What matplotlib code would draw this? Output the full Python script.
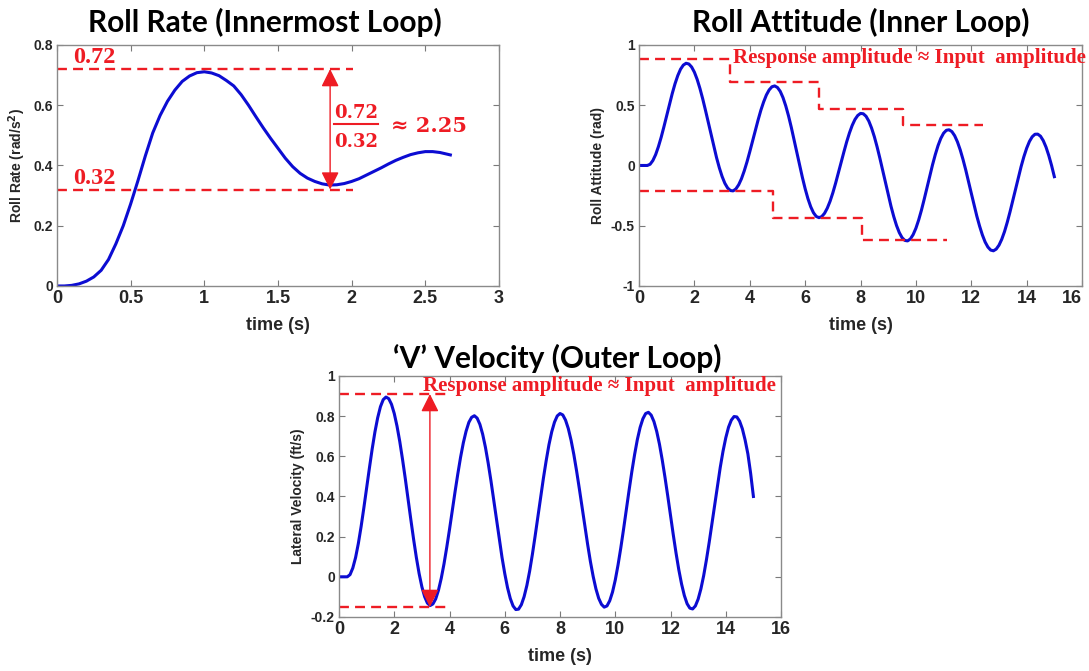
import matplotlib
matplotlib.use('Agg')
import matplotlib.pyplot as plt
from matplotlib.ticker import FuncFormatter

# roll rate response (innermost loop)
rate_t = [0, 0.05, 0.1, 0.15, 0.2, 0.25, 0.3, 0.35, 0.4, 0.45, 0.5, 0.55, 0.6, 0.65,
          0.7, 0.75, 0.8, 0.85, 0.9, 0.95, 1.0, 1.05, 1.1, 1.15, 1.2, 1.25, 1.3, 1.35,
          1.4, 1.45, 1.5, 1.55, 1.6, 1.65, 1.7, 1.75, 1.8, 1.85, 1.9, 1.95, 2.0, 2.05,
          2.1, 2.15, 2.2, 2.25, 2.3, 2.35, 2.4, 2.45, 2.5, 2.55, 2.6, 2.67]
rate_y = [0, 0.0, 0.002, 0.007, 0.016, 0.030, 0.052, 0.088, 0.140, 0.200, 0.272, 0.350,
          0.432, 0.508, 0.566, 0.613, 0.650, 0.679, 0.697, 0.708, 0.711, 0.707, 0.698,
          0.682, 0.664, 0.635, 0.600, 0.562, 0.525, 0.490, 0.457, 0.424, 0.396, 0.374,
          0.358, 0.347, 0.339, 0.335, 0.336, 0.340, 0.347, 0.356, 0.368, 0.380, 0.392,
          0.405, 0.417, 0.427, 0.436, 0.442, 0.446, 0.446, 0.443, 0.435]
rate_peak = 0.72
rate_trough = 0.32
rate_ratio = 2.25

# shared time grid for the inner and outer loop responses
t_long = [0.0, 0.1, 0.2, 0.3, 0.4, 0.5, 0.6, 0.7, 0.8, 0.9,
          1.0, 1.1, 1.2, 1.3, 1.4, 1.5, 1.6, 1.7, 1.8, 1.9,
          2.0, 2.1, 2.2, 2.3, 2.4, 2.5, 2.6, 2.7, 2.8, 2.9,
          3.0, 3.1, 3.2, 3.3, 3.4, 3.5, 3.6, 3.7, 3.8, 3.9,
          4.0, 4.1, 4.2, 4.3, 4.4, 4.5, 4.6, 4.7, 4.8, 4.9,
          5.0, 5.1, 5.2, 5.3, 5.4, 5.5, 5.6, 5.7, 5.8, 5.9,
          6.0, 6.1, 6.2, 6.3, 6.4, 6.5, 6.6, 6.7, 6.8, 6.9,
          7.0, 7.1, 7.2, 7.3, 7.4, 7.5, 7.6, 7.7, 7.8, 7.9,
          8.0, 8.1, 8.2, 8.3, 8.4, 8.5, 8.6, 8.7, 8.8, 8.9,
          9.0, 9.1, 9.2, 9.3, 9.4, 9.5, 9.6, 9.7, 9.8, 9.9,
          10.0, 10.1, 10.2, 10.3, 10.4, 10.5, 10.6, 10.7, 10.8, 10.9,
          11.0, 11.1, 11.2, 11.3, 11.4, 11.5, 11.6, 11.7, 11.8, 11.9,
          12.0, 12.1, 12.2, 12.3, 12.4, 12.5, 12.6, 12.7, 12.8, 12.9,
          13.0, 13.1, 13.2, 13.3, 13.4, 13.5, 13.6, 13.7, 13.8, 13.9,
          14.0, 14.1, 14.2, 14.3, 14.4, 14.5, 14.6, 14.7, 14.8, 14.9,
          15.0]

# roll attitude (inner loop)
att_y = [0.0, 0.0, 0.0, 0.0, 0.010, 0.041, 0.090, 0.156, 0.234, 0.322,
         0.414, 0.508, 0.597, 0.678, 0.746, 0.799, 0.833, 0.848, 0.842, 0.817,
         0.774, 0.714, 0.639, 0.553, 0.458, 0.359, 0.257, 0.158, 0.065, -0.019,
         -0.091, -0.148, -0.187, -0.208, -0.211, -0.194, -0.160, -0.110, -0.045, 0.030,
         0.114, 0.202, 0.291, 0.377, 0.458, 0.527, 0.585, 0.627, 0.653, 0.660,
         0.647, 0.615, 0.563, 0.494, 0.411, 0.316, 0.214, 0.108, 0.003, -0.099,
         -0.193, -0.275, -0.342, -0.392, -0.423, -0.433, -0.424, -0.397, -0.354, -0.297,
         -0.227, -0.147, -0.062, 0.026, 0.113, 0.196, 0.270, 0.333, 0.382, 0.415,
         0.432, 0.429, 0.408, 0.368, 0.310, 0.238, 0.153, 0.059, -0.041, -0.143,
         -0.243, -0.338, -0.424, -0.498, -0.557, -0.599, -0.622, -0.626, -0.610, -0.574,
         -0.521, -0.452, -0.371, -0.280, -0.184, -0.088, 0.005, 0.090, 0.165, 0.225,
         0.268, 0.292, 0.296, 0.281, 0.247, 0.196, 0.130, 0.051, -0.037, -0.132,
         -0.230, -0.327, -0.420, -0.503, -0.576, -0.635, -0.677, -0.702, -0.708, -0.694,
         -0.662, -0.613, -0.549, -0.471, -0.384, -0.290, -0.194, -0.099, -0.009, 0.073,
         0.143, 0.199, 0.238, 0.259, 0.260, 0.243, 0.206, 0.152, 0.082, 0.000,
         -0.093]

# lateral velocity (outer loop)
vel_y = [0.0, 0.0, 0.0, 0.0, 0.011, 0.044, 0.096, 0.166, 0.250, 0.344,
         0.443, 0.541, 0.636, 0.721, 0.792, 0.847, 0.882, 0.895, 0.887, 0.859,
         0.813, 0.750, 0.673, 0.584, 0.488, 0.386, 0.285, 0.187, 0.096, 0.016,
         -0.050, -0.099, -0.131, -0.143, -0.135, -0.110, -0.067, -0.008, 0.064, 0.147,
         0.236, 0.330, 0.423, 0.512, 0.595, 0.667, 0.725, 0.769, 0.794, 0.802,
         0.790, 0.759, 0.710, 0.645, 0.566, 0.478, 0.382, 0.285, 0.188, 0.097,
         0.016, -0.054, -0.108, -0.145, -0.163, -0.161, -0.139, -0.099, -0.043, 0.028,
         0.112, 0.204, 0.300, 0.398, 0.492, 0.579, 0.658, 0.722, 0.770, 0.801,
         0.813, 0.806, 0.780, 0.738, 0.680, 0.609, 0.527, 0.438, 0.345, 0.251,
         0.161, 0.076, 0.002, -0.060, -0.107, -0.137, -0.151, -0.145, -0.119, -0.076,
         -0.016, 0.059, 0.144, 0.237, 0.334, 0.431, 0.524, 0.609, 0.684, 0.744,
         0.787, 0.813, 0.819, 0.805, 0.773, 0.724, 0.660, 0.582, 0.495, 0.402,
         0.305, 0.209, 0.118, 0.035, -0.036, -0.093, -0.134, -0.156, -0.160, -0.145,
         -0.111, -0.060, 0.006, 0.085, 0.172, 0.266, 0.363, 0.456, 0.545, 0.625,
         0.692, 0.745, 0.780, 0.798, 0.796, 0.775, 0.737, 0.681, 0.612, 0.515,
         0.400]

# stepped amplitude envelopes for roll attitude
upper_edges = [0, 3.29, 6.5, 9.53, 12.43]
upper_levels = [0.885, 0.69, 0.47, 0.333, 0.333]
lower_edges = [0, 4.84, 8.04, 11.11]
lower_levels = [-0.212, -0.438, -0.62, -0.62]

# velocity amplitude markers
vel_hi = 0.91
vel_lo = -0.15
vel_arrow_t = 3.29

BLUE = '#0c0cd2'
RED = '#ee1c24'
TXT = '#262626'
note = 'Response amplitude \u2248 Input  amplitude'

plt.rcParams['font.family'] = 'Liberation Sans'
plt.rcParams['font.weight'] = 'bold'

fig = plt.figure(figsize=(10.89, 6.71), dpi=100)


def setup(ax, xlim, xticks, ylim, yticks, ylabel):
    ax.set_xlim(*xlim)
    ax.set_ylim(*ylim)
    ax.set_xticks(xticks)
    ax.set_yticks(yticks)
    fmt = FuncFormatter(lambda v, p: '{:g}'.format(round(v, 3)))
    ax.xaxis.set_major_formatter(fmt)
    ax.yaxis.set_major_formatter(fmt)
    ax.tick_params(direction='in', top=True, right=True, length=4, width=0.8,
                   color='#7a7a7a', labelcolor=TXT)
    ax.tick_params(axis='x', labelsize=13, pad=3)
    ax.tick_params(axis='y', labelsize=10, pad=3)
    for s in ax.spines.values():
        s.set_color('#8a8a8a')
        s.set_linewidth(1.0)
    ax.set_xlabel('time (s)', fontsize=13, fontweight='bold', color=TXT, labelpad=7)
    ax.set_ylabel(ylabel, fontsize=10, fontweight='bold', color=TXT, labelpad=4)


def title(x, y, s):
    fig.text(x, y, s, fontsize=21.5, family='Lato', fontweight='bold', color='black',
             ha='center', va='baseline')


dash = dict(color=RED, lw=1.7, linestyle=(0, (4.2, 2.6)))
arrow = dict(arrowstyle='<|-|>,head_length=0.9,head_width=0.45', mutation_scale=12,
             color=RED, lw=1.0, shrinkA=0, shrinkB=0)
serif = 'Liberation Serif'

# --- roll rate ---
ax1 = fig.add_axes([0.0523, 0.5738, 0.4059, 0.3592])
ax1.plot(rate_t, rate_y, color=BLUE, lw=2.2)
setup(ax1, (0, 3), [0, 0.5, 1, 1.5, 2, 2.5, 3], (0, 0.8), [0, 0.2, 0.4, 0.6, 0.8],
      'Roll Rate (rad/s$^2$)')
title(0.2433, 0.9516, 'Roll Rate (Innermost Loop)')
ax1.plot([0, 2.01], [rate_peak, rate_peak], **dash)
ax1.plot([0, 2.01], [rate_trough, rate_trough], **dash)
ax1.annotate('', xy=(1.854, rate_trough), xytext=(1.854, rate_peak), arrowprops=arrow)
ax1.text(0.11, rate_peak + 0.02, '{:.2f}'.format(rate_peak), color=RED, family=serif,
         fontsize=17.5, fontweight='bold', va='baseline')
ax1.text(0.11, rate_trough + 0.02, '{:.2f}'.format(rate_trough), color=RED, family=serif,
         fontsize=17.5, fontweight='bold', va='baseline')
ax1.text(2.03, 0.559, '{:.2f}'.format(rate_peak), color=RED, family='DejaVu Serif',
         fontsize=13, fontweight='bold', ha='center', va='baseline')
ax1.text(2.03, 0.4625, '{:.2f}'.format(rate_trough), color=RED, family='DejaVu Serif',
         fontsize=13, fontweight='bold', ha='center', va='baseline')
ax1.plot([1.877, 2.18], [0.537, 0.537], color=RED, lw=1.5)
ax1.text(2.265, 0.512, '\u2248 {:.2f}'.format(rate_ratio), color=RED, family='DejaVu Serif',
         fontsize=15, fontweight='bold', va='baseline')

# --- roll attitude ---
ax2 = fig.add_axes([0.5868, 0.5738, 0.4068, 0.3592])
ax2.plot(t_long, att_y, color=BLUE, lw=2.2)
setup(ax2, (0, 16), list(range(0, 17, 2)), (-1, 1), [-1, -0.5, 0, 0.5, 1],
      'Roll Attitude (rad)')
ax2.get_xticklabels()[-1].set_horizontalalignment('right')
title(0.7906, 0.9516, 'Roll Attitude (Inner Loop)')
ax2.plot(upper_edges, upper_levels, drawstyle='steps-post', **dash)
ax2.plot(lower_edges, lower_levels, drawstyle='steps-post', **dash)
ax2.text(3.39, 0.85, note, color=RED, family=serif, fontsize=15, fontweight='bold',
         va='baseline', clip_on=False)

# --- lateral velocity ---
ax3 = fig.add_axes([0.3113, 0.0805, 0.4059, 0.3592])
ax3.plot(t_long, vel_y, color=BLUE, lw=2.2)
setup(ax3, (0, 16), list(range(0, 17, 2)), (-0.2, 1), [-0.2, 0, 0.2, 0.4, 0.6, 0.8, 1],
      'Lateral Velocity (ft/s)')
title(0.5115, 0.4516, '\u2018V\u2019 Velocity (Outer Loop)')
ax3.plot([0, 3.96], [vel_hi, vel_hi], **dash)
ax3.plot([0, 3.96], [vel_lo, vel_lo], **dash)
ax3.annotate('', xy=(vel_arrow_t, vel_lo), xytext=(vel_arrow_t, vel_hi), arrowprops=arrow)
ax3.text(3.05, 0.927, note, color=RED, family=serif, fontsize=15, fontweight='bold',
         va='baseline', clip_on=False)

fig.savefig('out.png', dpi=100)
